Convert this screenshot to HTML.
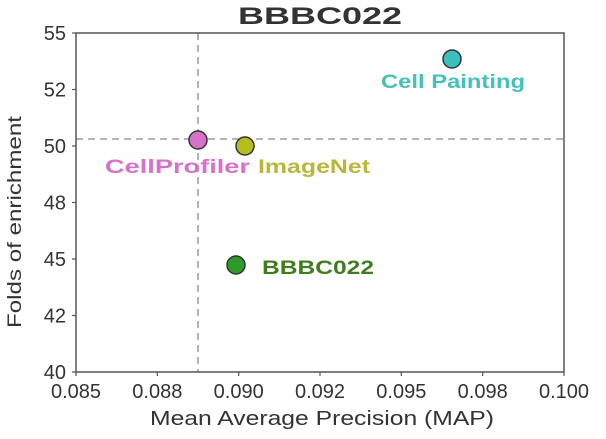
<!DOCTYPE html>
<html><head><meta charset="utf-8"><style>body{margin:0;background:#fff}svg{display:block}</style></head>
<body>
<svg width="606" height="439" xmlns="http://www.w3.org/2000/svg" font-family="Liberation Sans, sans-serif">
<rect width="606" height="439" fill="#fff"/>
<text x="320" y="24" font-size="24" font-weight="bold" text-anchor="middle" fill="#333" textLength="164" lengthAdjust="spacingAndGlyphs">BBBC022</text>
<line x1="198" y1="33" x2="198" y2="372" stroke="#888" stroke-width="1.3" stroke-dasharray="7,5"/>
<line x1="76" y1="139" x2="564" y2="139" stroke="#888" stroke-width="1.3" stroke-dasharray="7,5"/>
<rect x="76" y="33" width="488" height="339" fill="none" stroke="#555" stroke-width="1.5"/>
<g stroke="#555" stroke-width="1.2">
<line x1="72" y1="33" x2="76" y2="33"/><line x1="72" y1="89.5" x2="76" y2="89.5"/><line x1="72" y1="146" x2="76" y2="146"/><line x1="72" y1="202.5" x2="76" y2="202.5"/><line x1="72" y1="259" x2="76" y2="259"/><line x1="72" y1="315.5" x2="76" y2="315.5"/><line x1="72" y1="372" x2="76" y2="372"/>
<line x1="76" y1="372" x2="76" y2="376"/><line x1="157.3" y1="372" x2="157.3" y2="376"/><line x1="238.7" y1="372" x2="238.7" y2="376"/><line x1="320" y1="372" x2="320" y2="376"/><line x1="401.3" y1="372" x2="401.3" y2="376"/><line x1="482.7" y1="372" x2="482.7" y2="376"/><line x1="564" y1="372" x2="564" y2="376"/>
</g>
<g font-size="20" fill="#333" text-anchor="end">
<text x="66" y="40">55</text><text x="66" y="96.5">52</text><text x="66" y="153">50</text><text x="66" y="209.5">48</text><text x="66" y="266">45</text><text x="66" y="322.5">42</text><text x="66" y="379">40</text>
</g>
<g font-size="20" fill="#333" text-anchor="middle">
<text x="76" y="398">0.085</text><text x="157.3" y="398">0.088</text><text x="238.7" y="398">0.090</text><text x="320" y="398">0.092</text><text x="401.3" y="398">0.095</text><text x="482.7" y="398">0.098</text><text x="564" y="398">0.100</text>
</g>
<text x="322" y="425" font-size="20" fill="#333" text-anchor="middle" textLength="344" lengthAdjust="spacingAndGlyphs">Mean Average Precision (MAP)</text>
<text transform="translate(21,222) rotate(-90)" font-size="19" fill="#333" text-anchor="middle" textLength="212" lengthAdjust="spacingAndGlyphs">Folds of enrichment</text>
<g stroke="#333" stroke-width="1.5">
<circle cx="452" cy="59" r="9" fill="#3cc0be"/>
<circle cx="198" cy="140" r="9" fill="#d771c9"/>
<circle cx="245" cy="146" r="9" fill="#b5bd1f"/>
<circle cx="236" cy="265" r="9" fill="#2e9a2a"/>
</g>
<g font-size="19" font-weight="bold">
<text x="381" y="88" fill="#45c2b8" textLength="144" lengthAdjust="spacingAndGlyphs">Cell Painting</text>
<text x="105" y="173" fill="#d771c9" textLength="145" lengthAdjust="spacingAndGlyphs">CellProfiler</text>
<text x="258" y="173" fill="#b9b63a" textLength="112" lengthAdjust="spacingAndGlyphs">ImageNet</text>
<text x="262" y="274" fill="#3f7d1e" textLength="112" lengthAdjust="spacingAndGlyphs">BBBC022</text>
</g>
</svg>
</body></html>
